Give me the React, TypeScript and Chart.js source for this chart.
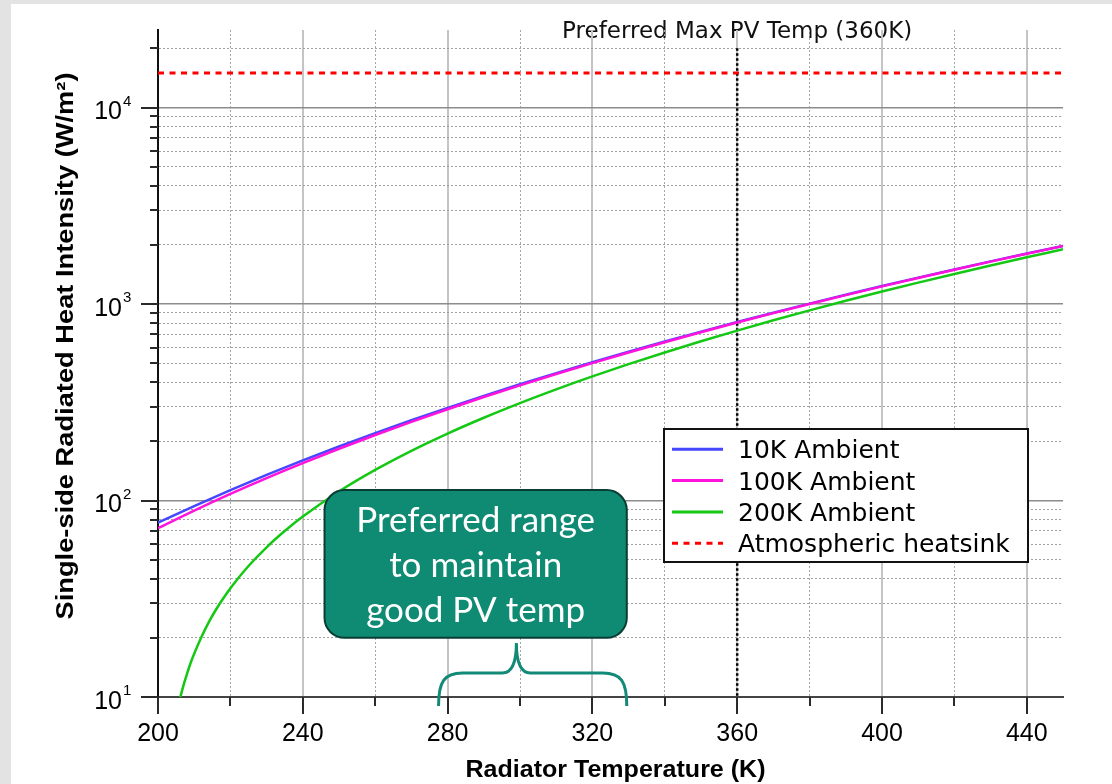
import React, { useEffect, useRef } from 'react';
import { Chart, registerables } from 'chart.js';

Chart.register(...registerables);

// ---- Data ----
const temperatures = [200, 210, 220, 230, 240, 250, 260, 270, 280, 290, 300, 310, 320, 330, 340, 350, 360, 370, 380, 390, 400, 410, 420, 430, 440, 450];
const ambient10K = [77.1, 93.7, 112.9, 134.9, 159.9, 188.3, 220.2, 256.1, 296.2, 340.9, 390.4, 445.1, 505.4, 571.6, 644.0, 723.2, 809.5, 903.3, 1004.9, 1115.0, 1233.8, 1361.9, 1499.7, 1647.7, 1806.4, 1976.3];
const ambient100K = [72.3, 88.9, 108.1, 130.1, 155.1, 183.4, 215.4, 251.3, 291.4, 336.1, 385.6, 440.3, 500.5, 566.7, 639.2, 718.4, 804.7, 898.4, 1000.1, 1110.1, 1229.0, 1357.1, 1494.9, 1642.9, 1801.6, 1971.5];
const temperatures200K = [206, 207, 208, 209, 210, 212, 214, 216, 218, 220, 225, 230, 235, 240, 250, 260, 270, 280, 290, 300, 310, 320, 330, 340, 350, 360, 370, 380, 390, 400, 410, 420, 430, 440, 450];
const ambient200K = [9.7, 11.4, 13.1, 14.9, 16.6, 20.2, 24.0, 27.8, 31.7, 35.8, 46.4, 57.8, 69.9, 82.8, 111.2, 143.1, 179.0, 219.1, 263.8, 313.3, 368.0, 428.3, 494.4, 566.9, 646.1, 732.4, 826.1, 927.8, 1037.9, 1156.7, 1284.8, 1422.6, 1570.6, 1729.3, 1899.2];
const heatsinkRange = [200, 450];
const heatsinkLevel = 15000;
const maxPvTemp = 360;
const maxPvLineSpan = [20000, 10];

const seriesLabels = ['10K Ambient', '100K Ambient', '200K Ambient', 'Atmospheric heatsink'];
const seriesColors = ['#4646ff', '#ff12dc', '#14c814', '#ff0000'];

const xTickValues = [200, 220, 240, 260, 280, 300, 320, 340, 360, 380, 400, 420, 440];
const xLabelStep = 40;
const yDecades = [10, 100, 1000, 10000];
const yMultipliers = [1, 2, 3, 4, 5, 6, 7, 8, 9];
const yTopTick = 20000;
const yTickValues: number[] = [];
yDecades.forEach((d) => yMultipliers.forEach((m) => { if (d * m <= yTopTick) yTickValues.push(d * m); }));

const topNote = 'Preferred Max PV Temp (360K)';
const boxLines = ['Preferred range', 'to maintain', 'good PV temp'];
const boxXRange = [246, 329.5];
const boxYRange = [20, 113];
const braceRange = [277.5, 299, 329.5];

const xTitle = 'Radiator Temperature (K)';
const yTitle = 'Single-side Radiated Heat Intensity (W/m\u00B2)';

const isDecade = (v: number) => Math.abs(Math.log10(v) - Math.round(Math.log10(v))) < 1e-9;

function stretchedText(ctx: CanvasRenderingContext2D, text: string, x: number, y: number, font: string, target: number, rotate: boolean) {
  ctx.save();
  ctx.font = font;
  const w = ctx.measureText(text).width;
  const s = target / w;
  ctx.translate(x, y);
  if (rotate) ctx.rotate(-Math.PI / 2);
  ctx.scale(s, 1);
  ctx.textAlign = 'center';
  ctx.textBaseline = 'alphabetic';
  ctx.fillText(text, 0, 0);
  ctx.restore();
}

const decorPlugin = {
  id: 'decor',
  beforeDraw(chart: any) {
    const { ctx, chartArea } = chart;
    const xs = chart.scales.x;
    ctx.save();
    ctx.fillStyle = '#111';
    ctx.font = '23px "DejaVu Sans"';
    ctx.textAlign = 'center';
    ctx.textBaseline = 'alphabetic';
    ctx.fillText(topNote, xs.getPixelForValue(maxPvTemp), chartArea.top + 8);
    ctx.restore();
  },
  afterDatasetsDraw(chart: any) {
    const { ctx, chartArea } = chart;
    const xs = chart.scales.x;
    const ys = chart.scales.y;
    // annotation box
    const bx0 = xs.getPixelForValue(boxXRange[0]);
    const bx1 = xs.getPixelForValue(boxXRange[1]);
    const by0 = ys.getPixelForValue(boxYRange[1]);
    const by1 = ys.getPixelForValue(boxYRange[0]);
    ctx.save();
    ctx.beginPath();
    ctx.roundRect(bx0, by0, bx1 - bx0, by1 - by0, 20);
    ctx.fillStyle = '#0f8a73';
    ctx.fill();
    ctx.lineWidth = 2;
    ctx.strokeStyle = '#0a3d33';
    ctx.stroke();
    ctx.fillStyle = '#ffffff';
    ctx.font = '35px Lato';
    ctx.textAlign = 'center';
    ctx.textBaseline = 'alphabetic';
    const cx = (bx0 + bx1) / 2;
    boxLines.forEach((t, i) => ctx.fillText(t, cx, by0 + 42 + i * 45));
    // brace
    const L = xs.getPixelForValue(braceRange[0]);
    const T = xs.getPixelForValue(braceRange[1]);
    const R = xs.getPixelForValue(braceRange[2]);
    const b = chartArea.bottom + 9;
    const a = chartArea.bottom - 24;
    const tip = chartArea.bottom - 54;
    ctx.beginPath();
    ctx.moveTo(L, b);
    ctx.bezierCurveTo(L, a + 8, L + 6, a, L + 24, a);
    ctx.lineTo(T - 14, a);
    ctx.quadraticCurveTo(T, a, T, tip);
    ctx.quadraticCurveTo(T, a, T + 14, a);
    ctx.lineTo(R - 24, a);
    ctx.bezierCurveTo(R - 6, a, R, a + 8, R, b);
    ctx.lineWidth = 3;
    ctx.strokeStyle = '#138a77';
    ctx.stroke();
    // legend
    const right = chartArea.right - 35;
    const left = right - 364;
    const top = chartArea.top + 399;
    ctx.fillStyle = '#fff';
    ctx.fillRect(left, top, right - left, 133);
    ctx.lineWidth = 2;
    ctx.strokeStyle = '#111';
    ctx.strokeRect(left, top, right - left, 133);
    ctx.font = '25px "DejaVu Sans"';
    ctx.textAlign = 'left';
    chart.data.datasets.slice(0, 4).forEach((ds: any, i: number) => {
      const base = top + 29.3 + i * 31.3;
      const ly = base - 9;
      ctx.beginPath();
      ctx.setLineDash(ds.borderDash || []);
      ctx.moveTo(left + 8, ly);
      ctx.lineTo(left + 59, ly);
      ctx.lineWidth = 3;
      ctx.strokeStyle = ds.borderColor;
      ctx.stroke();
      ctx.setLineDash([]);
      ctx.fillStyle = '#000';
      ctx.fillText(ds.label, left + 74, base);
    });
    ctx.restore();
  },
  afterDraw(chart: any) {
    const { ctx, chartArea } = chart;
    const xs = chart.scales.x;
    const ys = chart.scales.y;
    ctx.save();
    ctx.lineWidth = 2;
    ctx.strokeStyle = '#2a2a2a';
    xs.ticks.forEach((t: any) => {
      const px = Math.round(xs.getPixelForValue(t.value));
      const len = t.value % xLabelStep === 0 ? 17 : 9;
      ctx.beginPath();
      ctx.moveTo(px, chartArea.bottom);
      ctx.lineTo(px, chartArea.bottom + len);
      ctx.stroke();
    });
    ys.ticks.forEach((t: any) => {
      const py = Math.round(ys.getPixelForValue(t.value));
      const len = isDecade(t.value) ? 17 : 8;
      ctx.beginPath();
      ctx.moveTo(chartArea.left - len, py);
      ctx.lineTo(chartArea.left, py);
      ctx.stroke();
    });
    // y tick labels with superscript exponents
    ctx.fillStyle = '#000';
    yDecades.forEach((d) => {
      const py = ys.getPixelForValue(d);
      ctx.font = '25px "Liberation Sans"';
      ctx.textAlign = 'right';
      ctx.textBaseline = 'alphabetic';
      ctx.fillText('10', chartArea.left - 36, py + 11.5);
      ctx.font = '15px "Liberation Sans"';
      ctx.textAlign = 'left';
      ctx.fillText(String(Math.round(Math.log10(d))), chartArea.left - 35, py - 2);
    });
    // axis titles
    ctx.fillStyle = '#000';
    stretchedText(ctx, xTitle, (chartArea.left + chartArea.right) / 2 + 5, chartArea.bottom + 80, 'bold 23px "Liberation Sans"', 300, false);
    stretchedText(ctx, yTitle, chartArea.left - 85, chartArea.top + 316, 'bold 23px "Liberation Sans"', 547, true);
    ctx.restore();
  },
};

export default function App() {
  const canvasRef = useRef<HTMLCanvasElement | null>(null);

  useEffect(() => {
    const canvas = canvasRef.current;
    if (!canvas) return;
    const toPoints = (xs: number[], ys: number[]) => xs.map((x, i) => ({ x, y: ys[i] }));
    const chart = new Chart(canvas, {
      type: 'line',
      data: {
        datasets: [
          { label: seriesLabels[0], data: toPoints(temperatures, ambient10K), borderColor: seriesColors[0], borderWidth: 2.5, cubicInterpolationMode: 'monotone', order: 2 },
          { label: seriesLabels[1], data: toPoints(temperatures, ambient100K), borderColor: seriesColors[1], borderWidth: 2.5, cubicInterpolationMode: 'monotone', order: 1 },
          { label: seriesLabels[2], data: toPoints(temperatures200K, ambient200K), borderColor: seriesColors[2], borderWidth: 2.5, cubicInterpolationMode: 'monotone', order: 3 },
          { label: seriesLabels[3], data: heatsinkRange.map((x) => ({ x, y: heatsinkLevel })), borderColor: seriesColors[3], borderWidth: 3, borderDash: [6, 5.5], order: 4 },
          { label: 'Preferred Max PV Temp', data: maxPvLineSpan.map((y) => ({ x: maxPvTemp, y })), borderColor: '#000', borderWidth: 2.5, borderDash: [2.5, 2.5], order: 5 },
        ] as any,
      },
      options: {
        responsive: false,
        animation: false,
        devicePixelRatio: 1,
        layout: { padding: { top: 26, right: 49, left: 0, bottom: 0 } },
        elements: { point: { radius: 0 }, line: { fill: false } },
        plugins: { legend: { display: false }, tooltip: { enabled: false }, title: { display: false } },
        scales: {
          x: {
            type: 'linear',
            min: 200,
            max: 450,
            afterBuildTicks: (s: any) => {
              s.ticks = xTickValues.map((v) => ({ value: v }));
            },
            afterFit: (s: any) => {
              s.height = 87;
            },
            ticks: {
              autoSkip: false,
              maxRotation: 0,
              padding: 22,
              color: '#000',
              font: { size: 25, family: 'Liberation Sans' },
              callback: (v: any) => (Number(v) % xLabelStep === 0 ? String(v) : ''),
            },
            grid: {
              drawTicks: false,
              color: (c: any) => (c.tick && c.tick.value % xLabelStep === 0 ? '#c4c4c4' : '#a6a6a6'),
              lineWidth: (c: any) => (c.tick && c.tick.value % xLabelStep === 0 ? 2 : 1),
            },
            border: {
              color: '#444',
              width: 2,
              dash: (c: any) => (c.tick && c.tick.value % xLabelStep !== 0 ? [2, 2] : []),
            },
          },
          y: {
            type: 'logarithmic',
            min: 10,
            max: 24800,
            afterBuildTicks: (s: any) => {
              s.ticks = yTickValues.map((v) => ({ value: v, major: isDecade(v) }));
            },
            afterFit: (s: any) => {
              s.width = 147;
            },
            ticks: { display: false },
            grid: {
              drawTicks: false,
              color: (c: any) => (c.tick && isDecade(c.tick.value) ? '#8c8c8c' : '#a0a0a0'),
              lineWidth: (c: any) => (c.tick && isDecade(c.tick.value) ? 1.5 : 1),
            },
            border: {
              color: '#111',
              width: 2,
              dash: (c: any) => (c.tick && !isDecade(c.tick.value) ? [2, 2] : []),
            },
          },
        },
      } as any,
      plugins: [decorPlugin],
    });
    return () => chart.destroy();
  }, []);

  return (
    <div style={{ position: 'fixed', inset: 0, background: '#e3e3e3' }}>
      <div style={{ position: 'absolute', left: 11, top: 4, width: 1101, height: 780, background: '#ffffff' }}>
        <canvas ref={canvasRef} width={1101} height={780} style={{ display: 'block', width: 1101, height: 780 }} />
      </div>
    </div>
  );
}
